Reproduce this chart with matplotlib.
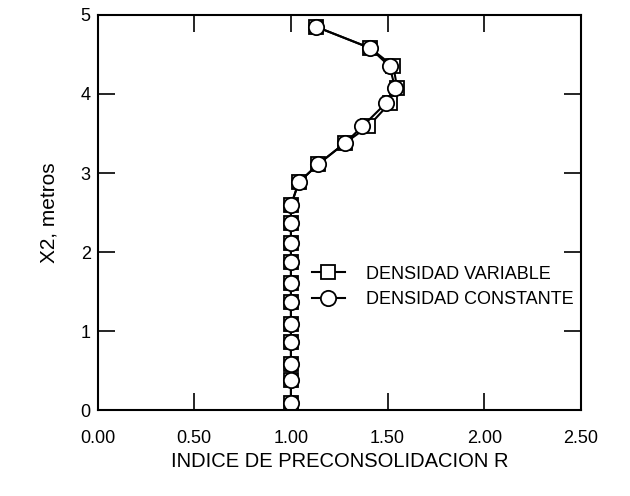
import matplotlib.pyplot as plt

plt.rcParams['font.family'] = ['Liberation Sans', 'DejaVu Sans']

# profundidad X2 (m)
x2 = [0.09, 0.38, 0.59, 0.86, 1.09, 1.37, 1.61, 1.87, 2.11, 2.37, 2.59,
      2.88, 3.11, 3.38, 3.59, 3.88, 4.07, 4.35, 4.58, 4.85]

# indice R - densidad variable
r_variable = [1.00, 1.00, 1.00, 1.00, 1.00, 1.00, 1.00, 1.00, 1.00, 1.00, 1.00,
              1.04, 1.14, 1.28, 1.40, 1.51, 1.55, 1.53, 1.41, 1.13]

# indice R - densidad constante
r_constante = [1.00, 1.00, 1.00, 1.00, 1.00, 1.00, 1.00, 1.00, 1.00, 1.00, 1.00,
               1.04, 1.14, 1.28, 1.37, 1.49, 1.54, 1.51, 1.41, 1.13]

xticks = [0.0, 0.5, 1.0, 1.5, 2.0, 2.5]
yticks = [0, 1, 2, 3, 4, 5]

fig = plt.figure(figsize=(6.3, 4.96), dpi=100)
ax = fig.add_axes([0.155, 0.173, 0.767, 0.797])

ax.plot(r_variable, x2, color='black', lw=1.5, marker='s', ms=10,
        mfc='white', mec='black', mew=1.3, label='DENSIDAD VARIABLE')
ax.plot(r_constante, x2, color='black', lw=1.5, marker='o', ms=11,
        mfc='white', mec='black', mew=1.3, label='DENSIDAD CONSTANTE')

ax.set_xlim(0, 2.5)
ax.set_ylim(0, 5)
ax.set_xticks(xticks)
ax.set_xticklabels(['%.2f' % t for t in xticks])
ax.set_yticks(yticks)
ax.tick_params(direction='in', length=12, width=1.2, top=True, right=True,
               labelsize=13)
ax.tick_params(axis='x', pad=14)
ax.tick_params(axis='y', pad=5)
for s in ax.spines.values():
    s.set_linewidth(1.5)

ax.set_xlabel('INDICE DE PRECONSOLIDACION R', fontsize=14.5, labelpad=4)
ax.set_ylabel('X2, metros', fontsize=15, labelpad=16)

ax.legend(loc='center left', bbox_to_anchor=(0.41, 0.312), frameon=False,
          fontsize=13, handlelength=1.8, handletextpad=1.2, labelspacing=0.45)

plt.savefig('out.png', dpi=100)
plt.close()
